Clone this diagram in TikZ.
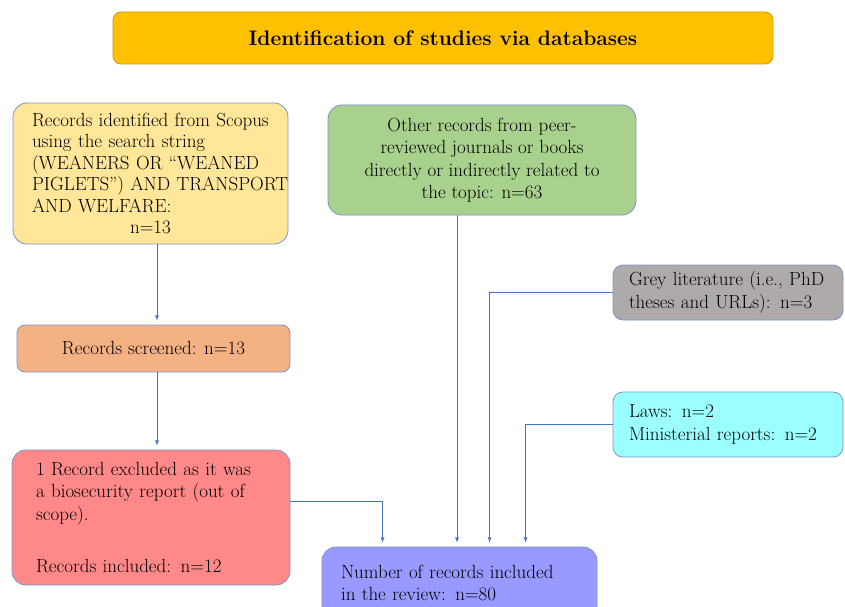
\documentclass[tikz,border=0pt]{standalone}
\usepackage{fontspec}
\usepackage{tikz}

\definecolor{linkblue}{RGB}{68,114,196}
\definecolor{boxline}{RGB}{120,150,205}
\definecolor{titlefill}{RGB}{255,192,0}
\definecolor{searchfill}{RGB}{255,230,153}
\definecolor{otherfill}{RGB}{169,209,142}
\definecolor{greyfill}{RGB}{174,170,170}
\definecolor{lawfill}{RGB}{155,255,255}
\definecolor{screenfill}{RGB}{244,177,131}
\definecolor{exclfill}{RGB}{255,137,137}
\definecolor{finalfill}{RGB}{153,153,255}

\tikzset{
  box/.style={draw=boxline, line width=.8pt, rounded corners=14pt, inner sep=0pt,
    font=\fontsize{19}{22.5}\selectfont},
  link/.style={draw=linkblue, line width=.8pt, -latex, shorten >=4pt},
}

\begin{document}
\begin{tikzpicture}[x=1pt,y=-1pt]
  \useasboundingbox (0,0) rectangle (845,607);
  \clip (0,0) rectangle (845,607);
  %
  \node[box, fill=titlefill, draw=titlefill!80!black, rounded corners=8pt,
    minimum width=660pt, minimum height=52pt,
    font=\fontsize{21}{24}\selectfont\bfseries] (title) at (443,38)
    {Identification of studies via databases};
  %
  \node[box, fill=searchfill, minimum width=275pt, minimum height=141pt,
    text width=237pt, align=left, font=\fontsize{19}{21.5}\selectfont]
    (search) at (150.5,173.5)
    {\mbox{Records identified from Scopus}\\ \mbox{using the search string}\\
     \mbox{(WEANERS OR ``WEANED}\\ \mbox{PIGLETS'') AND TRANSPORT}\\
     \mbox{AND WELFARE:}\par
     {\centering n=13\par}};
  \node[box, fill=otherfill, minimum width=308pt, minimum height=110pt,
    align=center] (other) at (482,160)
    {Other records from peer-\\ reviewed journals or books\\
     directly or indirectly related to\\ the topic: n=63};
  \node[box, fill=greyfill, rounded corners=10pt, minimum width=230pt,
    minimum height=55pt, text width=198pt, align=left] (grey) at (728,292.5)
    {\mbox{Grey literature (i.e., PhD}\\ \mbox{theses and URLs): n=3}};
  \node[box, fill=lawfill, rounded corners=10pt, minimum width=230pt,
    minimum height=65pt, text width=198pt, align=left] (laws) at (728,424.5)
    {\mbox{Laws: n=2}\\ \mbox{Ministerial reports: n=2}};
  \node[box, fill=screenfill, rounded corners=8pt, minimum width=273pt,
    minimum height=47pt] (screened) at (153.5,348.5)
    {Records screened: n=13};
  \node[box, fill=exclfill, minimum width=278pt, minimum height=135pt,
    text width=230pt, align=left] (excl) at (151,517.5)
    {\mbox{1 Record excluded as it was}\\ \mbox{a biosecurity report (out of}\\
     \mbox{scope).}\\[30pt]
     \mbox{Records included: n=12}};
  \node[box, fill=finalfill, minimum width=275pt, minimum height=72pt,
    text width=237pt, align=left] (final) at (459.5,583)
    {\mbox{Number of records included}\\ \mbox{in the review: n=80}};
  %
  \draw[link] ([xshift=6.5pt]search.south) -- ([xshift=6.5pt]search.south |- screened.north);
  \draw[link] ([xshift=3.5pt]screened.south) -- ([xshift=3.5pt]screened.south |- excl.north);
  \draw[link] ([yshift=16.5pt]excl.east) -| ([xshift=61pt]final.north west);
  \draw[link] ([xshift=-25pt]other.south) -- ([xshift=-25pt]other.south |- final.north);
  \draw[link] (grey.west) -| ([xshift=168pt]final.north west);
  \draw[link] (laws.west) -| ([xshift=204pt]final.north west);
\end{tikzpicture}
\end{document}
